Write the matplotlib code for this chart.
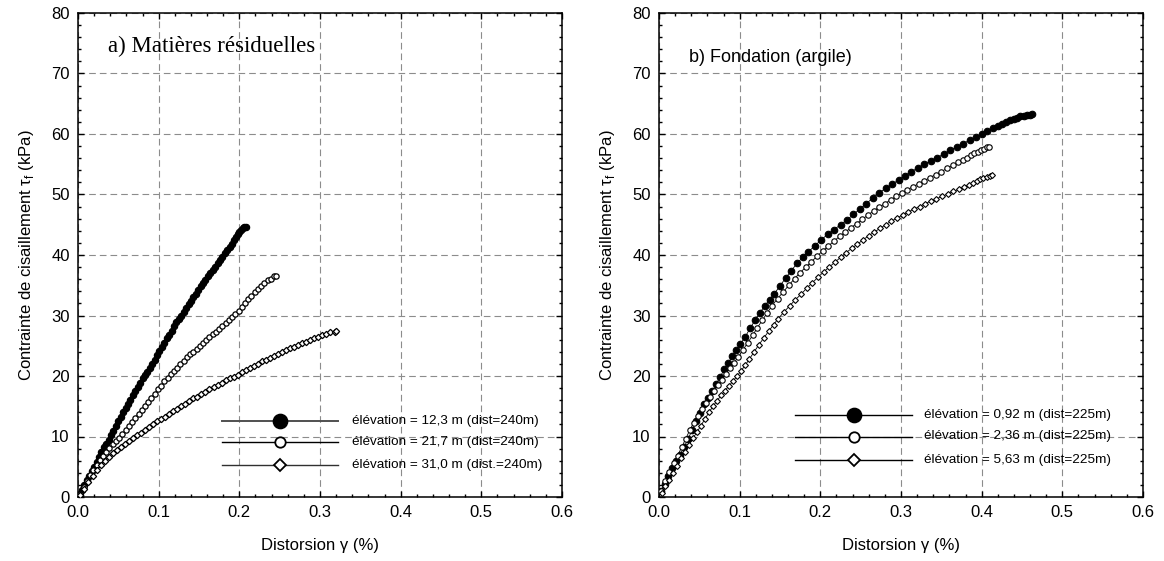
import matplotlib
matplotlib.use("Agg")
import matplotlib.pyplot as plt
from matplotlib.ticker import MultipleLocator

plt.rcParams['font.family'] = ['Liberation Sans', 'DejaVu Sans']
plt.rcParams['mathtext.fontset'] = 'custom'
plt.rcParams['mathtext.rm'] = 'Liberation Sans'

# ---- a) Matières résiduelles ----
a1_x = [0.002, 0.005, 0.008, 0.011, 0.014, 0.017, 0.020, 0.023, 0.026, 0.029,
        0.032, 0.035, 0.038, 0.041, 0.044, 0.047, 0.050, 0.053, 0.056, 0.059,
        0.062, 0.065, 0.068, 0.071, 0.074, 0.077, 0.080, 0.083, 0.086, 0.089,
        0.092, 0.095, 0.098, 0.101, 0.104, 0.107, 0.110, 0.113, 0.116, 0.119,
        0.122, 0.125, 0.128, 0.131, 0.134, 0.137, 0.140, 0.143, 0.146, 0.149,
        0.152, 0.155, 0.158, 0.161, 0.164, 0.167, 0.170, 0.173, 0.176, 0.179,
        0.182, 0.185, 0.188, 0.191, 0.194,
        0.196, 0.198, 0.200, 0.202, 0.204, 0.206, 0.208]
a1_y = [0.4, 1.2, 2.0, 2.8, 3.5, 4.3, 5.0, 5.8, 6.6, 7.4,
        8.2, 8.8, 9.4, 10.2, 10.9, 11.8, 12.6, 13.3, 14.0, 14.7,
        15.4, 16.1, 16.8, 17.5, 18.2, 18.9, 19.6, 20.1, 20.6, 21.3,
        22.0, 22.7, 23.4, 24.1, 24.8, 25.5, 26.2, 26.8, 27.4, 28.2,
        28.9, 29.4, 29.9, 30.6, 31.3, 31.9, 32.4, 33.0, 33.6, 34.2,
        34.8, 35.4, 35.9, 36.5, 37.0, 37.5, 38.0, 38.6, 39.1, 39.7,
        40.3, 40.8, 41.4, 41.9, 42.5,
        43.0, 43.4, 43.8, 44.1, 44.4, 44.6, 44.7]

a2_x = [0.003, 0.007, 0.011, 0.015, 0.019, 0.023, 0.027, 0.031, 0.035, 0.039,
        0.043, 0.047, 0.051, 0.055, 0.059, 0.063, 0.067, 0.071, 0.075, 0.079,
        0.083, 0.087, 0.091, 0.095, 0.099, 0.103, 0.107, 0.111, 0.115, 0.119,
        0.123, 0.127, 0.131, 0.135, 0.139, 0.143, 0.147, 0.151, 0.155, 0.159,
        0.163, 0.167, 0.171, 0.175, 0.179, 0.183, 0.187, 0.191, 0.195, 0.199,
        0.203, 0.207, 0.211, 0.215, 0.219, 0.223, 0.227, 0.231, 0.235, 0.239,
        0.243, 0.245]
a2_y = [0.5, 1.6, 2.6, 3.6, 4.5, 5.3, 6.1, 6.8, 7.5, 8.1,
        8.7, 9.3, 9.8, 10.4, 11.0, 11.7, 12.4, 13.1, 13.8, 14.4,
        15.1, 15.7, 16.4, 17.1, 17.8, 18.4, 19.1, 19.7, 20.3, 20.9,
        21.4, 22.0, 22.5, 23.1, 23.6, 24.0, 24.5, 24.9, 25.4, 25.9,
        26.4, 26.9, 27.3, 27.8, 28.3, 28.8, 29.2, 29.7, 30.2, 30.8,
        31.4, 32.0, 32.7, 33.3, 33.9, 34.4, 34.9, 35.4, 35.8, 36.1,
        36.5, 36.6]

a3_x = [0.003, 0.008, 0.013, 0.018, 0.023, 0.028, 0.033, 0.038, 0.043, 0.048,
        0.053, 0.058, 0.063, 0.068, 0.073, 0.078, 0.083, 0.088, 0.093, 0.098,
        0.103, 0.108, 0.113, 0.118, 0.123, 0.128, 0.133, 0.138, 0.143, 0.148,
        0.153, 0.158, 0.163, 0.168, 0.173, 0.178, 0.183, 0.188, 0.193, 0.198,
        0.203, 0.208, 0.213, 0.218, 0.223, 0.228, 0.233, 0.238, 0.243, 0.248,
        0.253, 0.258, 0.263, 0.268, 0.273, 0.278, 0.283, 0.288, 0.293, 0.298,
        0.303, 0.308, 0.313, 0.318, 0.320]
a3_y = [0.4, 1.4, 2.5, 3.5, 4.4, 5.3, 6.0, 6.6, 7.2, 7.7,
        8.2, 8.7, 9.2, 9.7, 10.2, 10.6, 11.1, 11.6, 12.0, 12.5,
        12.9, 13.3, 13.8, 14.2, 14.6, 15.0, 15.4, 15.9, 16.3, 16.6,
        17.0, 17.4, 17.8, 18.2, 18.5, 18.9, 19.3, 19.6, 19.9, 20.2,
        20.6, 21.0, 21.3, 21.6, 22.0, 22.4, 22.7, 23.0, 23.3, 23.6,
        23.9, 24.3, 24.6, 24.8, 25.1, 25.4, 25.7, 26.0, 26.3, 26.5,
        26.8, 27.0, 27.2, 27.3, 27.4]

a_labels = ["élévation = 12,3 m (dist=240m)",
            "élévation = 21,7 m (dist=240m)",
            "élévation = 31,0 m (dist.=240m)"]

# ---- b) Fondation (argile) ----
b1_x = [0.003, 0.007, 0.011, 0.016, 0.021, 0.026, 0.031, 0.036, 0.041, 0.046, 0.051, 0.056,
        0.061, 0.066, 0.071, 0.076, 0.081, 0.086, 0.091, 0.096, 0.101, 0.107, 0.113, 0.119,
        0.125, 0.131, 0.137, 0.143, 0.150, 0.157, 0.164, 0.171, 0.178, 0.185, 0.193, 0.201,
        0.209, 0.217, 0.225, 0.233, 0.241, 0.249, 0.257, 0.265, 0.273, 0.281, 0.289, 0.297,
        0.305, 0.313, 0.321, 0.329, 0.337, 0.345, 0.353, 0.361, 0.369, 0.377, 0.385, 0.393,
        0.400, 0.407, 0.414, 0.420, 0.425, 0.430, 0.435, 0.440, 0.444, 0.448, 0.452, 0.456,
        0.460, 0.463]
b1_y = [1.0, 2.2, 3.4, 4.8, 6.0, 7.0, 8.2, 9.6, 11.0, 12.5, 13.9, 15.3,
        16.4, 17.5, 18.7, 19.9, 21.1, 22.2, 23.3, 24.3, 25.3, 26.5, 27.9, 29.2,
        30.4, 31.6, 32.6, 33.6, 34.9, 36.2, 37.4, 38.6, 39.6, 40.5, 41.5, 42.5,
        43.4, 44.2, 45.0, 45.8, 46.7, 47.6, 48.5, 49.4, 50.3, 51.0, 51.7, 52.4,
        53.1, 53.8, 54.4, 55.0, 55.6, 56.1, 56.7, 57.3, 57.9, 58.4, 59.0, 59.5,
        60.0, 60.5, 61.0, 61.4, 61.7, 62.0, 62.3, 62.5, 62.7, 62.9, 63.0, 63.1,
        63.2, 63.3]

b2_x = [0.003, 0.008, 0.013, 0.018, 0.023, 0.028, 0.033, 0.038, 0.043, 0.048, 0.053, 0.058,
        0.063, 0.068, 0.073, 0.078, 0.083, 0.088, 0.093, 0.098, 0.104, 0.110, 0.116, 0.122,
        0.128, 0.134, 0.140, 0.147, 0.154, 0.161, 0.168, 0.175, 0.182, 0.189, 0.196, 0.203,
        0.210, 0.217, 0.224, 0.231, 0.238, 0.245, 0.252, 0.259, 0.266, 0.273, 0.280, 0.287,
        0.294, 0.301, 0.308, 0.315, 0.322, 0.329, 0.336, 0.343, 0.350, 0.357, 0.364, 0.371,
        0.377, 0.382, 0.387, 0.391, 0.395, 0.399, 0.403, 0.406, 0.409]
b2_y = [1.0, 2.7, 4.1, 5.6, 6.8, 8.2, 9.6, 11.0, 12.3, 13.4, 14.5, 15.5,
        16.5, 17.5, 18.5, 19.4, 20.4, 21.3, 22.2, 23.1, 24.3, 25.5, 26.7, 28.0,
        29.2, 30.4, 31.6, 32.8, 33.9, 35.0, 36.1, 37.1, 38.0, 38.9, 39.8, 40.7,
        41.5, 42.3, 43.1, 43.8, 44.5, 45.2, 45.9, 46.6, 47.3, 47.9, 48.5, 49.1,
        49.7, 50.2, 50.8, 51.3, 51.8, 52.3, 52.8, 53.3, 53.8, 54.3, 54.8, 55.3,
        55.7, 56.1, 56.5, 56.8, 57.1, 57.3, 57.6, 57.8, 57.9]

b3_x = [0.004, 0.008, 0.012, 0.017, 0.022, 0.027, 0.032, 0.037, 0.042, 0.047, 0.052, 0.057,
        0.062, 0.067, 0.072, 0.077, 0.082, 0.087, 0.092, 0.097, 0.102, 0.107, 0.112, 0.118,
        0.124, 0.130, 0.136, 0.142, 0.148, 0.155, 0.162, 0.169, 0.176, 0.183, 0.190, 0.197,
        0.204, 0.211, 0.218, 0.225, 0.232, 0.239, 0.246, 0.253, 0.260, 0.267, 0.274, 0.281,
        0.288, 0.295, 0.302, 0.309, 0.316, 0.323, 0.330, 0.337, 0.344, 0.351, 0.358, 0.365,
        0.372, 0.378, 0.384, 0.389, 0.394, 0.398, 0.402, 0.406, 0.410, 0.413]
b3_y = [0.7, 1.8, 2.8, 4.0, 5.2, 6.4, 7.5, 8.6, 9.7, 10.7, 11.8, 12.9,
        14.0, 15.0, 15.9, 16.8, 17.6, 18.4, 19.2, 20.0, 20.9, 21.8, 22.8, 24.0,
        25.2, 26.3, 27.4, 28.5, 29.5, 30.6, 31.6, 32.6, 33.5, 34.5, 35.4, 36.3,
        37.2, 38.0, 38.8, 39.6, 40.4, 41.1, 41.8, 42.5, 43.2, 43.8, 44.4, 45.0,
        45.6, 46.1, 46.6, 47.1, 47.6, 48.0, 48.5, 48.9, 49.3, 49.7, 50.1, 50.5,
        50.9, 51.3, 51.6, 51.9, 52.2, 52.5, 52.7, 52.9, 53.1, 53.3]

b_labels = ["élévation = 0,92 m (dist=225m)",
            "élévation = 2,36 m (dist=225m)",
            "élévation = 5,63 m (dist=225m)"]

x_ticks = [0.0, 0.1, 0.2, 0.3, 0.4, 0.5, 0.6]
x_ticklabels = ["0.0", "0.1", "0.2", "0.3", "0.4", "0.5", "0.6"]
y_ticks = [0, 10, 20, 30, 40, 50, 60, 70, 80]

W, H = 1164, 561
fig = plt.figure(figsize=(W / 100, H / 100), dpi=100)
ax_a = fig.add_axes([78 / W, (H - 497) / H, 484 / W, 484 / H])
ax_b = fig.add_axes([659 / W, (H - 497) / H, 484 / W, 484 / H])

# marker styles: filled circle, open circle, open diamond
styles = [dict(marker='o', mfc='black', mec='black'),
          dict(marker='o', mfc='white', mec='black'),
          dict(marker='D', mfc='white', mec='black')]


def style_axes(ax):
    ax.set_xlim(0, 0.6)
    ax.set_ylim(0, 80)
    ax.set_xticks(x_ticks)
    ax.set_xticklabels(x_ticklabels)
    ax.set_yticks(y_ticks)
    ax.xaxis.set_minor_locator(MultipleLocator(0.02))
    ax.yaxis.set_minor_locator(MultipleLocator(2))
    ax.tick_params(which='both', direction='in', top=True, right=True,
                   labelsize=12, width=1.0, colors='black')
    ax.tick_params(which='major', length=4.5, pad=6)
    ax.tick_params(which='minor', length=2.5)
    ax.grid(True, which='major', color='#8c8c8c', linestyle=(0, (6, 3.6)), linewidth=0.8)
    ax.set_axisbelow(True)
    for s in ax.spines.values():
        s.set_linewidth(1.1)
        s.set_color('black')
    ax.set_xlabel("Distorsion γ (%)", fontsize=12, labelpad=13)
    ax.set_ylabel("Contrainte de cisaillement τ$_\\mathregular{f}$ (kPa)", fontsize=12, labelpad=11)


def draw_legend(ax, labels, x0, x1, xm, xt, ys, msizes, lcolors, lwidths):
    for i, (lab, y) in enumerate(zip(labels, ys)):
        ax.plot([x0, x1], [y, y], transform=ax.transAxes, color=lcolors[i],
                linewidth=lwidths[i], clip_on=False, zorder=4)
        ax.plot([xm], [y], transform=ax.transAxes, linestyle='none',
                markersize=msizes[i], markeredgewidth=1.3, clip_on=False, zorder=5,
                **styles[i])
        ax.text(xt, y, lab, transform=ax.transAxes, fontsize=9.7,
                va='center', ha='left', zorder=5)


# panel a
series_a = [(a1_x, a1_y, 4.5), (a2_x, a2_y, 3.8), (a3_x, a3_y, 3.2)]
for i, (xs, ys, ms) in enumerate(series_a):
    ax_a.plot(xs, ys, color='black', linewidth=0.6, markersize=ms,
              markeredgewidth=0.9, zorder=3, **styles[i])
style_axes(ax_a)
ax_a.text(0.062, 0.93, "a) Matières résiduelles", transform=ax_a.transAxes,
          fontsize=16.5, family='Liberation Serif', va='center', ha='left')
draw_legend(ax_a, a_labels, 0.297, 0.537, 0.417, 0.566,
            [0.156, 0.114, 0.066], [10, 7.5, 6],
            ['#505050', 'black', '#303030'], [1.4, 1.0, 1.0])

# panel b
series_b = [(b1_x, b1_y, 4.7), (b2_x, b2_y, 3.9), (b3_x, b3_y, 3.0)]
for i, (xs, ys, ms) in enumerate(series_b):
    ax_b.plot(xs, ys, color='black', linewidth=0.6, markersize=ms,
              markeredgewidth=0.8, zorder=3, **styles[i])
style_axes(ax_b)
ax_b.text(0.063, 0.909, "b) Fondation (argile)", transform=ax_b.transAxes,
          fontsize=13, va='center', ha='left')
draw_legend(ax_b, b_labels, 0.282, 0.523, 0.402, 0.547,
            [0.169, 0.125, 0.076], [10, 7.5, 6],
            ['black', 'black', 'black'], [1.0, 1.0, 1.0])

fig.savefig("out.png", dpi=100)
